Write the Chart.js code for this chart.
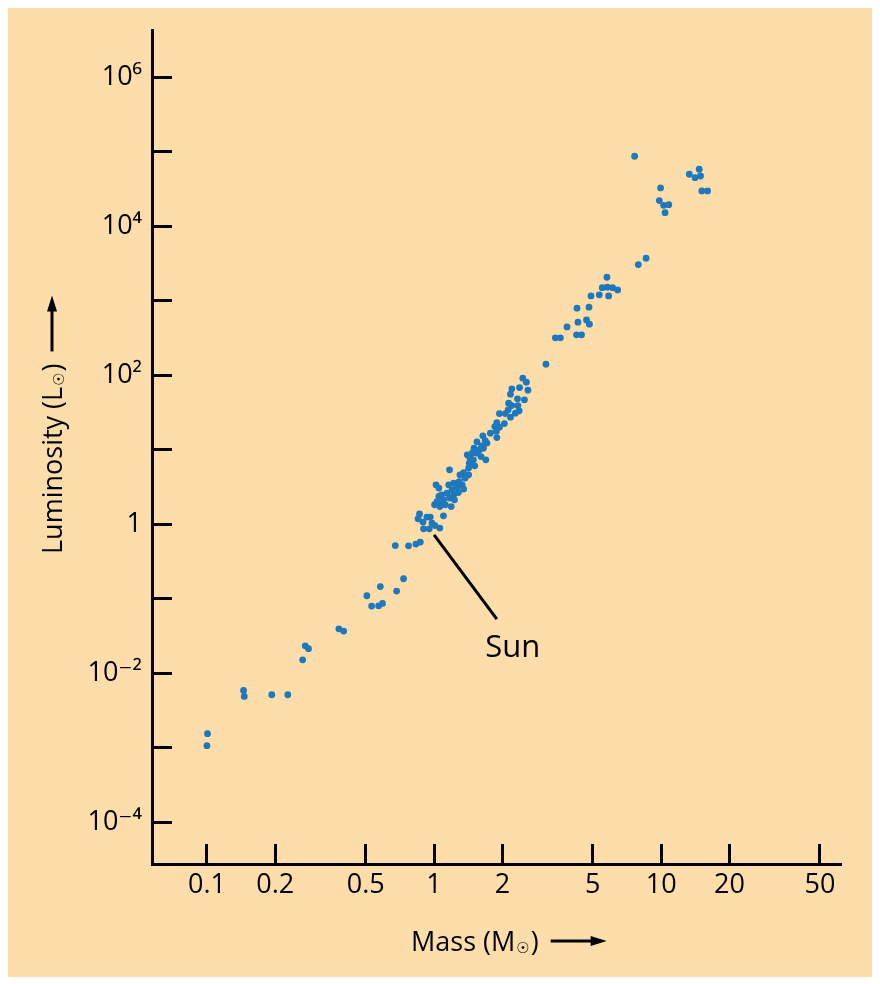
<!DOCTYPE html>
<html><head><meta charset="utf-8">
<script src="https://cdn.jsdelivr.net/npm/chart.js@4.4.1/dist/chart.umd.min.js"></script>
<style>html,body{margin:0;padding:0;background:#fff}canvas{display:block}</style>
</head><body>
<canvas id="c" width="880" height="984"></canvas>
<script>
// ---- data (mass in solar masses, luminosity in solar luminosities) ----
const MASS = [
  3.11,2.46,2.55,2.38,2.59,2.20,2.17,2.33,2.50,2.13,
  2.20,2.34,2.12,2.37,2.28,1.94,2.06,2.17,2.04,1.89,
  1.94,1.85,1.88,1.77,1.89,1.64,1.68,1.545,1.71,1.62,
  1.50,1.65,1.585,1.40,1.47,1.545,1.44,1.61,1.69,1.49,
  1.43,1.51,1.42,1.17,1.35,1.30,1.42,1.37,1.29,1.22,
  1.16,1.33,1.02,1.26,1.05,1.20,1.35,1.28,1.14,1.08,
  1.22,1.05,1.17,1.10,1.23,1.03,1.065,1.005,1.12,1.19,
  1.06,1.10,0.863,0.85,0.93,0.962,0.894,0.979,1.01,1.06,
  0.899,0.952,0.675,0.772,0.832,0.87,
  0.734,0.58,0.506,0.684,0.531,0.57,0.593,0.381,0.40,0.271,
  0.28,0.264,0.145,0.146,0.193,0.227,0.1006,0.100,
  7.64,13.3,14.7,14.1,14.9,15.1,16.0,9.94,9.81,10.25,
  10.8,10.4,8.58,7.93,5.77,5.50,5.79,6.11,6.43,4.91,
  5.34,5.87,4.26,4.81,4.30,4.69,4.83,3.85,4.24,4.46,
  3.42,3.60
];
const LUMINOSITY = [
  141,91.5,80.9,68.4,63.1,65.8,55.8,48.3,46.8,42.3,
  39.2,39.2,34.4,33.3,31.0,30.6,30.6,27.4,22.5,23.2,
  20.1,20.5,17.8,16.7,14.6,15.4,13.3,12.8,12.3,11.3,
  10.5,10.5,10.0,8.56,9.02,9.02,7.73,8.12,7.33,7.33,
  6.62,6.09,5.68,5.38,4.95,4.61,4.61,4.17,3.75,3.57,
  3.39,3.39,3.39,3.12,3.06,2.90,2.97,2.67,2.62,2.49,
  2.49,2.36,2.25,2.13,2.13,2.02,1.88,1.83,1.83,1.73,
  1.73,1.30,1.38,1.185,1.25,1.25,1.07,1.04,0.963,0.889,
  0.87,0.87,0.519,0.515,0.543,0.577,
  0.186,0.146,0.110,0.127,0.080,0.0805,0.0866,0.0396,0.0369,0.0234,
  0.0214,0.0152,0.00589,0.0049,0.00516,0.00516,0.00155,0.00107,
  87000,49900,58200,44900,47300,29800,29800,32700,22100,19100,
  19500,15200,3720,3060,2070,1500,1520,1500,1400,1160,
  1200,1160,795,820,516,554,485,446,349,349,
  318,318
];
const X_TICKS = [0.1,0.2,0.5,1,2,5,10,20,50];
const X_TICK_LABELS = ['0.1','0.2','0.5','1','2','5','10','20','50'];
const Y_TICKS = [1e-4,1e-3,1e-2,1e-1,1,10,100,1e3,1e4,1e5,1e6];
const Y_TICK_LABELS = ['10\u207B\u2074','','10\u207B\u00B2','','1','','10\u00B2','','10\u2074','','10\u2076'];
const X_RANGE = [0.0573, 61.9];
const Y_RANGE = [Math.pow(10,-4.559), Math.pow(10,6.634)];
const SUN_POINTER_MASS = [1.0, 1.89];
const SUN_POINTER_LUM = [0.72, 0.0535];
const SUN_LABEL = 'Sun';
const SUN_LABEL_MASS = 2.22;
const SUN_LABEL_LUM = 0.0168;
const X_TITLE = ['Mass (M', '\u2609', ')'];
const Y_TITLE = ['Luminosity (L', '\u2609', ')'];

const FONT = "'Open Sans', 'DejaVu Sans', sans-serif";
const PEACH = 'rgb(253,221,169)';
const DOT = '#1d78bd';

const bgPlugin = {
  id: 'bg',
  beforeDraw(chart) {
    const c = chart.ctx;
    c.save();
    c.fillStyle = '#ffffff';
    c.fillRect(0, 0, chart.width, chart.height);
    c.fillStyle = PEACH;
    c.fillRect(8, 8, 864, 969);
    c.restore();
  }
};

function drawTitle(c, parts) {
  c.fillStyle = '#000';
  c.textAlign = 'left';
  c.textBaseline = 'alphabetic';
  let x = 0;
  c.font = '27px ' + FONT;
  c.fillText(parts[0], x, 0);
  x += c.measureText(parts[0]).width + 1;
  c.font = '15px ' + FONT;
  c.fillText(parts[1], x, 2);
  x += c.measureText(parts[1]).width + 1;
  c.font = '27px ' + FONT;
  c.fillText(parts[2], x, 0);
  x += c.measureText(parts[2]).width;
  const a0 = x + 12, a1 = a0 + 56, ay = -10;
  c.strokeStyle = '#000';
  c.lineWidth = 3;
  c.beginPath();
  c.moveTo(a0, ay);
  c.lineTo(a1 - 10, ay);
  c.stroke();
  c.beginPath();
  c.moveTo(a1, ay);
  c.lineTo(a1 - 16, ay - 5);
  c.lineTo(a1 - 16, ay + 5);
  c.closePath();
  c.fill();
}

const annotPlugin = {
  id: 'annot',
  afterDraw(chart) {
    const c = chart.ctx;
    const xs = chart.scales.x, ys = chart.scales.y;
    c.save();
    c.fillStyle = '#000';
    c.font = '31px ' + FONT;
    c.textAlign = 'center';
    c.textBaseline = 'alphabetic';
    c.fillText(SUN_LABEL, xs.getPixelForValue(SUN_LABEL_MASS), ys.getPixelForValue(SUN_LABEL_LUM));
    c.save();
    c.translate(411, 951);
    drawTitle(c, X_TITLE);
    c.restore();
    c.save();
    c.translate(62, 554);
    c.rotate(-Math.PI / 2);
    drawTitle(c, Y_TITLE);
    c.restore();
    c.restore();
  }
};

function zeroPad(s) { s.paddingTop = 0; s.paddingBottom = 0; s.paddingLeft = 0; s.paddingRight = 0; }

const stars = MASS.map((m, i) => ({ x: m, y: LUMINOSITY[i] }));
const pointer = SUN_POINTER_MASS.map((m, i) => ({ x: m, y: SUN_POINTER_LUM[i] }));

new Chart(document.getElementById('c'), {
  type: 'scatter',
  data: {
    datasets: [
      {
        label: 'Stars',
        data: stars,
        pointRadius: 3.4,
        pointBorderWidth: 0,
        pointBackgroundColor: DOT,
        pointBorderColor: DOT,
        showLine: false
      },
      {
        type: 'line',
        label: 'Sun pointer',
        data: pointer,
        showLine: true,
        borderColor: '#000',
        borderWidth: 3,
        pointRadius: 0,
        fill: false
      }
    ]
  },
  options: {
    responsive: false,
    animation: false,
    events: [],
    layout: { padding: { top: 30, right: 39, left: 0, bottom: 0 } },
    plugins: { legend: { display: false }, tooltip: { enabled: false } },
    scales: {
      x: {
        type: 'logarithmic',
        position: 'bottom',
        min: X_RANGE[0],
        max: X_RANGE[1],
        afterBuildTicks: s => { s.ticks = X_TICKS.map(v => ({ value: v })); },
        afterFit: s => { s.height = 120; zeroPad(s); },
        border: { display: true, color: '#000', width: 3 },
        grid: { display: true, drawOnChartArea: false, drawTicks: true, tickLength: -20, tickWidth: 3, tickColor: '#000' },
        ticks: {
          autoSkip: false, maxRotation: 0, minRotation: 0, padding: 25, color: '#000',
          font: { family: FONT, size: 27 },
          callback: (v, i) => X_TICK_LABELS[i]
        }
      },
      y: {
        type: 'logarithmic',
        position: 'left',
        min: Y_RANGE[0],
        max: Y_RANGE[1],
        afterBuildTicks: s => { s.ticks = Y_TICKS.map(v => ({ value: v })); },
        afterFit: s => { s.width = 152; zeroPad(s); },
        border: { display: true, color: '#000', width: 3 },
        grid: { display: true, drawOnChartArea: false, drawTicks: true, tickLength: -20, tickWidth: 3, tickColor: '#000' },
        ticks: {
          autoSkip: false, padding: 30, color: '#000',
          font: { family: FONT, size: 27 },
          callback: (v, i) => Y_TICK_LABELS[i]
        }
      }
    }
  },
  plugins: [bgPlugin, annotPlugin]
});
</script>
</body></html>
